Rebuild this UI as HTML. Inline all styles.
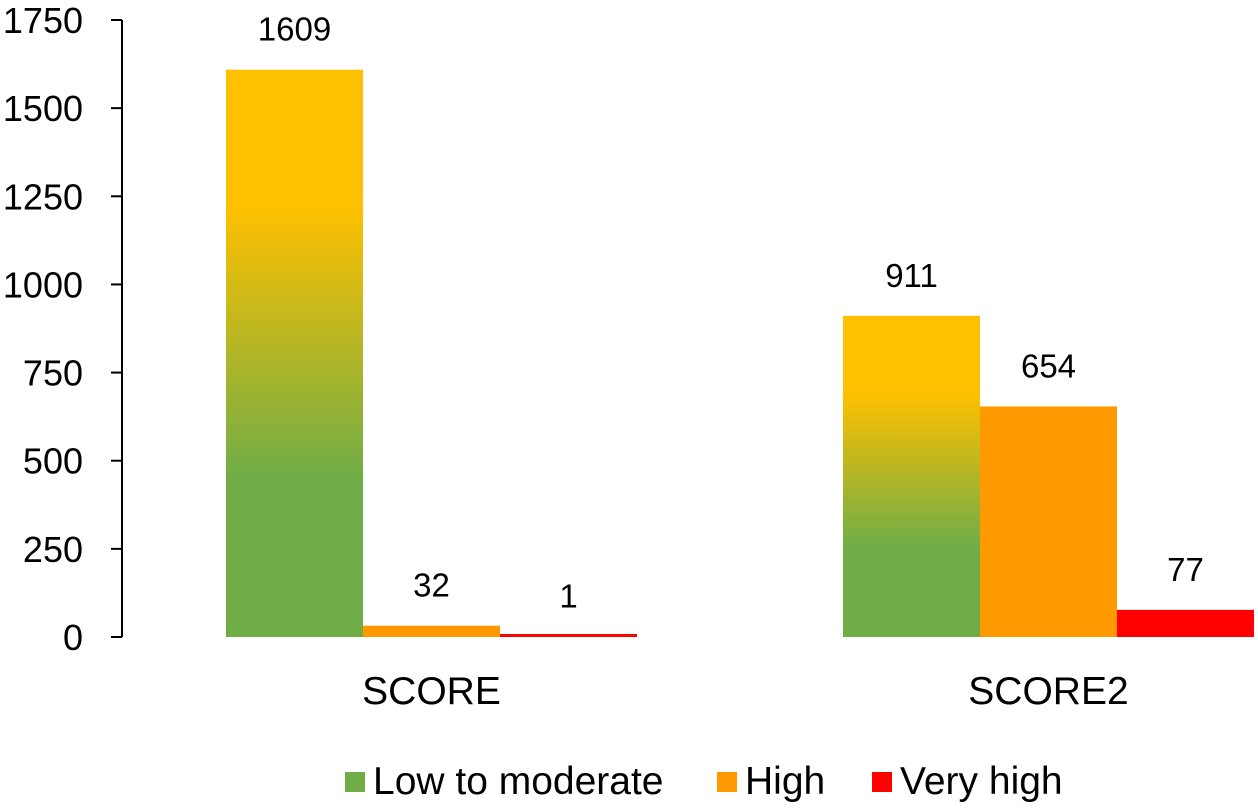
<!DOCTYPE html>
<html><head><meta charset="utf-8">
<style>
body{margin:0;background:#fff;}
svg text{font-family:"Liberation Sans",Arial,sans-serif;fill:#000;}
</style></head>
<body>
<svg id="chart" width="1258" height="806" viewBox="0 0 1258 806" xmlns="http://www.w3.org/2000/svg">
<defs>
<linearGradient id="lowGrad" x1="0" y1="0" x2="0" y2="1">
<stop offset="0" stop-color="#FFC000"/>
<stop offset="0.24" stop-color="#FFC000"/>
<stop offset="0.72" stop-color="#70AD47"/>
<stop offset="1" stop-color="#70AD47"/>
</linearGradient>
</defs>
<g id="axis"></g>
<g id="bars"></g>
<g id="legend">
<rect x="345" y="772" width="20" height="20" fill="#70AD47"/>
<text x="373" y="794" font-size="39">Low to moderate</text>
<rect x="717" y="772" width="20" height="20" fill="#FF9900"/>
<text x="745" y="794" font-size="39">High</text>
<rect x="872" y="772" width="20" height="20" fill="#FF0000"/>
<text x="900" y="794" font-size="39">Very high</text>
</g>
</svg>
<script>
const categories = ["SCORE", "SCORE2"];
const seriesNames = ["Low to moderate", "High", "Very high"];
const lowValues = [1609, 911];
const highValues = [32, 654];
const veryHighValues = [1, 77];
const yTicks = [0, 250, 500, 750, 1000, 1250, 1500, 1750];

const NS = "http://www.w3.org/2000/svg";
const y0 = 637, pxPerUnit = 617 / 1750;
function yScale(v){ return y0 - v * pxPerUnit; }
const groupStart = [226, 843], barW = 137;
function xScale(ci, si){ return groupStart[ci] + si * barW; }
function mk(tag, attrs){ const e = document.createElementNS(NS, tag); for (const k in attrs) e.setAttribute(k, attrs[k]); return e; }

const axis = document.getElementById('axis');
const yAxisLine = mk('line', {x1:122, x2:122, y1:yScale(yTicks[yTicks.length-1]), y2:y0, stroke:'#000', 'stroke-width':2});


axis.appendChild(yAxisLine);
yTicks.forEach(t => {
  const tk = mk('line', {x1:111, x2:122, y1:yScale(t), y2:yScale(t), stroke:'#000', 'stroke-width':2});
  
  
  axis.appendChild(tk);
  const lb = mk('text', {x:83, y:yScale(t) + 13, 'text-anchor':'end', 'font-size':36});
  
  
  lb.textContent = t;
  axis.appendChild(lb);
});
categories.forEach((c, ci) => {
  const lb = mk('text', {x:groupStart[ci] + barW * 1.5, y:704, 'text-anchor':'middle', 'font-size':39});
  
  
  lb.textContent = c;
  axis.appendChild(lb);
});

const bars = document.getElementById('bars');
const series = [lowValues, highValues, veryHighValues];
const fills = ['url(#lowGrad)', '#FF9900', '#FF0000'];
const barNames = ['bar-low', 'bar-high', 'bar-very-high'];
categories.forEach((c, ci) => {
  series.forEach((vals, si) => {
    const v = vals[ci];
    const top = yScale(v);
    const h = Math.max(y0 - top, 3);
    const r = mk('rect', {x:xScale(ci, si), y:y0 - h, width:barW, height:h, fill:fills[si]});
    
    
    bars.appendChild(r);
    const t = mk('text', {x:xScale(ci, si) + barW/2, y:top - 29, 'text-anchor':'middle', 'font-size':33});
    
    
    t.textContent = v;
    bars.appendChild(t);
  });
});
</script>
</body></html>
